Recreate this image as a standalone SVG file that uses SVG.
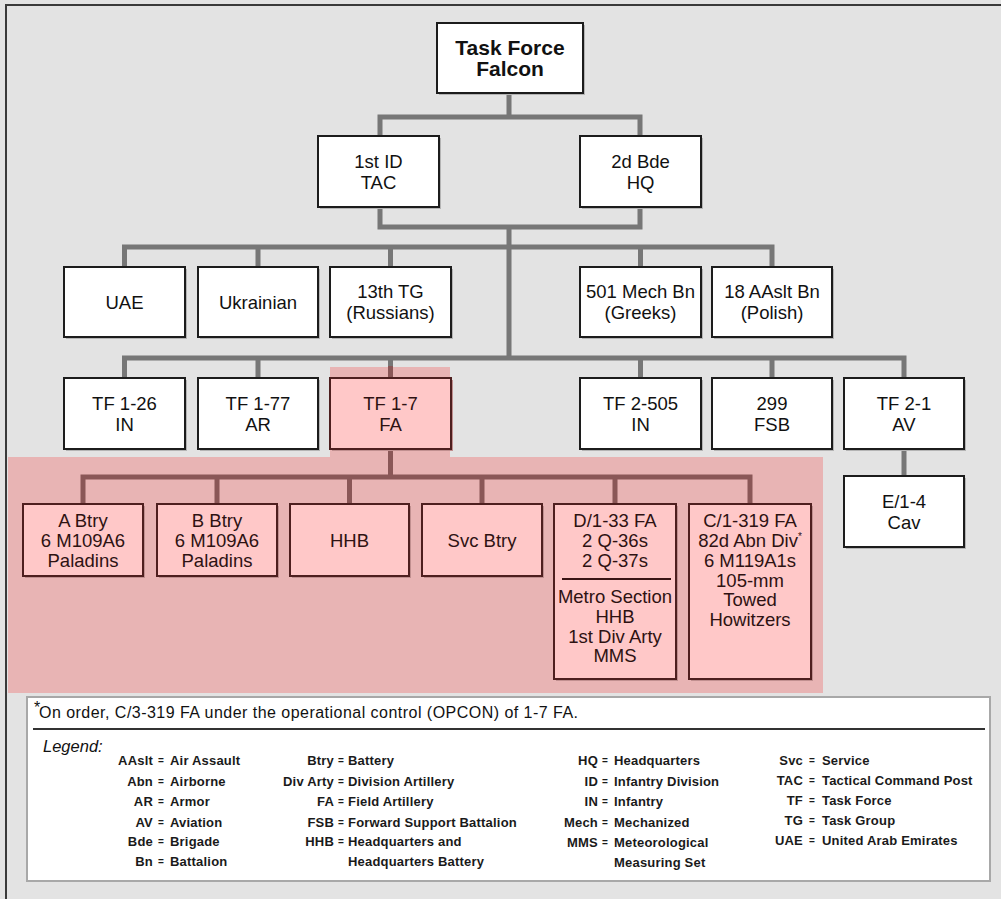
<svg xmlns="http://www.w3.org/2000/svg" width="1001" height="899" viewBox="0 0 1001 899">
<style>
text{font-family:"Liberation Sans",Arial,Helvetica,sans-serif}
.bg{fill:#e3e3e3}
.frame{fill:none;stroke:#3a3a3a;stroke-width:2}
.hl{fill:#e8b4b4}
.c{fill:none;stroke:#777;stroke-width:5;stroke-linejoin:miter;stroke-linecap:butt}
.cp{fill:none;stroke:#8a5757;stroke-width:5;stroke-linejoin:miter}
.n .s{fill:#b4b4b4}
.n .b{fill:#fff;stroke:#1c1c1c;stroke-width:2}
.p .s{fill:#c08f8f}
.p .b{fill:#ffc8c8;stroke:#4e1f1f;stroke-width:2}
.t{font-size:18.5px;fill:#111;text-anchor:middle}
.p .t{fill:#2e1212}
.title{font-size:21px;font-weight:bold;fill:#111;text-anchor:middle}
.div{stroke:#3a1515;stroke-width:2}
.lgbox{fill:#fff;stroke:#a8a8a8;stroke-width:2}
.fn{font-size:16px;fill:#111}
.lt{font-size:16.5px;font-style:italic;fill:#111}
.lg{font-size:13px;font-weight:bold;fill:#1a1a1a;letter-spacing:0.2px}
.eq{font-size:10px;font-weight:bold;fill:#1a1a1a}
.ab{text-anchor:end}
</style>
<rect class="bg" x="0" y="0" width="1001" height="899"/>
<rect class="frame" x="6" y="5" width="1010" height="910"/>
<polygon class="hl" points="330,367 450,367 450,457 823,457 823,693 8,693 8,457 330,457"/>

<g id="connectors">
  <path class="c" d="M509,93 V117 M380,136 V117 H640 V136"/>
  <path class="c" d="M380,207 V227 H640 V207 M509,227 V358"/>
  <path class="c" d="M124.5,267 V247 H772 V267 M258,247 V267 M390.5,247 V267 M640.5,247 V267"/>
  <path class="c" d="M124.5,378 V358 H904 V378 M258,358 V378 M390.5,358 V367 M640.5,358 V378 M772,358 V378"/>
  <path class="cp" d="M390.5,366 V378"/>
  <path class="c" d="M904,449 V476"/>
  <path class="cp" d="M390.5,449 V477 M83,504 V477 H750 V504 M217,477 V504 M349.5,477 V504 M482,477 V504 M615,477 V504"/>
</g>

<g id="falcon" class="n"><rect class="s" x="439" y="25" width="146" height="70"/><rect class="b" x="437" y="23" width="146" height="70"/>
  <text class="title" x="510" y="54.5">Task Force</text><text class="title" x="510" y="75.5">Falcon</text></g>
<g id="tac" class="n"><rect class="s" x="320" y="138" width="121" height="71"/><rect class="b" x="318" y="136" width="121" height="71"/>
  <text class="t" x="378.5" y="168">1st ID</text><text class="t" x="378.5" y="189">TAC</text></g>
<g id="bde" class="n"><rect class="s" x="582" y="138" width="121" height="71"/><rect class="b" x="580" y="136" width="121" height="71"/>
  <text class="t" x="640.5" y="168">2d Bde</text><text class="t" x="640.5" y="189">HQ</text></g>

<g id="uae" class="n"><rect class="s" x="66" y="269" width="121" height="70"/><rect class="b" x="64" y="267" width="121" height="70"/>
  <text class="t" x="124.5" y="308.5">UAE</text></g>
<g id="ukrainian" class="n"><rect class="s" x="200" y="269" width="120" height="70"/><rect class="b" x="198" y="267" width="120" height="70"/>
  <text class="t" x="258" y="308.5">Ukrainian</text></g>
<g id="tg13" class="n"><rect class="s" x="332" y="269" width="121" height="70"/><rect class="b" x="330" y="267" width="121" height="70"/>
  <text class="t" x="390.5" y="298">13th TG</text><text class="t" x="390.5" y="319">(Russians)</text></g>
<g id="mech501" class="n"><rect class="s" x="582" y="269" width="121" height="70"/><rect class="b" x="580" y="267" width="121" height="70"/>
  <text class="t" x="640.5" y="298">501 Mech Bn</text><text class="t" x="640.5" y="319">(Greeks)</text></g>
<g id="aaslt18" class="n"><rect class="s" x="714" y="269" width="120" height="70"/><rect class="b" x="712" y="267" width="120" height="70"/>
  <text class="t" x="772" y="298">18 AAslt Bn</text><text class="t" x="772" y="319">(Polish)</text></g>

<g id="tf126" class="n"><rect class="s" x="66" y="380" width="121" height="71"/><rect class="b" x="64" y="378" width="121" height="71"/>
  <text class="t" x="124.5" y="410">TF 1-26</text><text class="t" x="124.5" y="431">IN</text></g>
<g id="tf177" class="n"><rect class="s" x="200" y="380" width="120" height="71"/><rect class="b" x="198" y="378" width="120" height="71"/>
  <text class="t" x="258" y="410">TF 1-77</text><text class="t" x="258" y="431">AR</text></g>
<g id="tf17" class="p"><rect class="s" x="332" y="380" width="121" height="71"/><rect class="b" x="330" y="378" width="121" height="71"/>
  <text class="t" x="390.5" y="410">TF 1-7</text><text class="t" x="390.5" y="431">FA</text></g>
<g id="tf2505" class="n"><rect class="s" x="582" y="380" width="121" height="71"/><rect class="b" x="580" y="378" width="121" height="71"/>
  <text class="t" x="640.5" y="410">TF 2-505</text><text class="t" x="640.5" y="431">IN</text></g>
<g id="fsb299" class="n"><rect class="s" x="714" y="380" width="120" height="71"/><rect class="b" x="712" y="378" width="120" height="71"/>
  <text class="t" x="772" y="410">299</text><text class="t" x="772" y="431">FSB</text></g>
<g id="tf21" class="n"><rect class="s" x="846" y="380" width="120" height="71"/><rect class="b" x="844" y="378" width="120" height="71"/>
  <text class="t" x="904" y="410">TF 2-1</text><text class="t" x="904" y="431">AV</text></g>
<g id="e14" class="n"><rect class="s" x="846" y="478" width="120" height="71"/><rect class="b" x="844" y="476" width="120" height="71"/>
  <text class="t" x="904" y="508">E/1-4</text><text class="t" x="904" y="529">Cav</text></g>

<g id="abtry" class="p"><rect class="s" x="25" y="506" width="120" height="72"/><rect class="b" x="23" y="504" width="120" height="72"/>
  <text class="t" x="83" y="526.5">A Btry</text><text class="t" x="83" y="546.5">6 M109A6</text><text class="t" x="83" y="566.5">Paladins</text></g>
<g id="bbtry" class="p"><rect class="s" x="159" y="506" width="120" height="72"/><rect class="b" x="157" y="504" width="120" height="72"/>
  <text class="t" x="217" y="526.5">B Btry</text><text class="t" x="217" y="546.5">6 M109A6</text><text class="t" x="217" y="566.5">Paladins</text></g>
<g id="hhb" class="p"><rect class="s" x="292" y="506" width="119" height="72"/><rect class="b" x="290" y="504" width="119" height="72"/>
  <text class="t" x="349.5" y="546.5">HHB</text></g>
<g id="svc" class="p"><rect class="s" x="424" y="506" width="120" height="72"/><rect class="b" x="422" y="504" width="120" height="72"/>
  <text class="t" x="482" y="546.5">Svc Btry</text></g>
<g id="d133" class="p"><rect class="s" x="556" y="506" width="122" height="175"/><rect class="b" x="554" y="504" width="122" height="175"/>
  <text class="t" x="615" y="526.5">D/1-33 FA</text><text class="t" x="615" y="546.5">2 Q-36s</text><text class="t" x="615" y="566.5">2 Q-37s</text>
  <line class="div" x1="562" y1="579" x2="671" y2="579"/>
  <text class="t" x="615" y="602.5">Metro Section</text><text class="t" x="615" y="622.5">HHB</text><text class="t" x="615" y="642.5">1st Div Arty</text><text class="t" x="615" y="662">MMS</text></g>
<g id="c1319" class="p"><rect class="s" x="691" y="506" width="122" height="175"/><rect class="b" x="689" y="504" width="122" height="175"/>
  <text class="t" x="750" y="526.5">C/1-319 FA</text><text class="t" x="750" y="546.5">82d Abn Div<tspan font-size="10px" dy="-7">*</tspan></text><text class="t" x="750" y="566.5">6 M119A1s</text><text class="t" x="750" y="586.5">105-mm</text><text class="t" x="750" y="606">Towed</text><text class="t" x="750" y="626">Howitzers</text></g>

<g id="legend">
  <rect class="lgbox" x="27" y="697" width="963" height="184"/>
  <text class="fn" x="34" y="713" font-size="10px">*</text>
  <text class="fn" x="39" y="718" textLength="539" lengthAdjust="spacing">On order, C/3-319 FA under the operational control (OPCON) of 1-7 FA.</text>
  <line x1="33" y1="729" x2="985" y2="729" stroke="#333" stroke-width="2"/>
  <text class="lt" x="43" y="752">Legend:</text>

  <text class="lg ab" x="153" y="765">AAslt</text><text class="eq" x="158" y="764">=</text><text class="lg" x="170" y="765">Air Assault</text>
  <text class="lg ab" x="153" y="786">Abn</text><text class="eq" x="158" y="785">=</text><text class="lg" x="170" y="786">Airborne</text>
  <text class="lg ab" x="153" y="806">AR</text><text class="eq" x="158" y="805">=</text><text class="lg" x="170" y="806">Armor</text>
  <text class="lg ab" x="153" y="827">AV</text><text class="eq" x="158" y="826">=</text><text class="lg" x="170" y="827">Aviation</text>
  <text class="lg ab" x="153" y="846">Bde</text><text class="eq" x="158" y="845">=</text><text class="lg" x="170" y="846">Brigade</text>
  <text class="lg ab" x="153" y="866">Bn</text><text class="eq" x="158" y="865">=</text><text class="lg" x="170" y="866">Battalion</text>

  <text class="lg ab" x="334" y="765">Btry</text><text class="eq" x="338" y="764">=</text><text class="lg" x="348" y="765">Battery</text>
  <text class="lg ab" x="334" y="786">Div Arty</text><text class="eq" x="338" y="785">=</text><text class="lg" x="348" y="786">Division Artillery</text>
  <text class="lg ab" x="334" y="806">FA</text><text class="eq" x="338" y="805">=</text><text class="lg" x="348" y="806">Field Artillery</text>
  <text class="lg ab" x="334" y="827">FSB</text><text class="eq" x="338" y="826">=</text><text class="lg" x="348" y="827">Forward Support Battalion</text>
  <text class="lg ab" x="334" y="846">HHB</text><text class="eq" x="338" y="845">=</text><text class="lg" x="348" y="846">Headquarters and</text>
  <text class="lg" x="348" y="866">Headquarters Battery</text>

  <text class="lg ab" x="598" y="765">HQ</text><text class="eq" x="602" y="764">=</text><text class="lg" x="614" y="765">Headquarters</text>
  <text class="lg ab" x="598" y="786">ID</text><text class="eq" x="602" y="785">=</text><text class="lg" x="614" y="786">Infantry Division</text>
  <text class="lg ab" x="598" y="806">IN</text><text class="eq" x="602" y="805">=</text><text class="lg" x="614" y="806">Infantry</text>
  <text class="lg ab" x="598" y="827">Mech</text><text class="eq" x="602" y="826">=</text><text class="lg" x="614" y="827">Mechanized</text>
  <text class="lg ab" x="598" y="847">MMS</text><text class="eq" x="602" y="846">=</text><text class="lg" x="614" y="847">Meteorological</text>
  <text class="lg" x="614" y="867">Measuring Set</text>

  <text class="lg ab" x="803" y="765">Svc</text><text class="eq" x="809" y="764">=</text><text class="lg" x="822" y="765">Service</text>
  <text class="lg ab" x="803" y="785">TAC</text><text class="eq" x="809" y="784">=</text><text class="lg" x="822" y="785">Tactical Command Post</text>
  <text class="lg ab" x="803" y="805">TF</text><text class="eq" x="809" y="804">=</text><text class="lg" x="822" y="805">Task Force</text>
  <text class="lg ab" x="803" y="825">TG</text><text class="eq" x="809" y="824">=</text><text class="lg" x="822" y="825">Task Group</text>
  <text class="lg ab" x="803" y="845">UAE</text><text class="eq" x="809" y="844">=</text><text class="lg" x="822" y="845">United Arab Emirates</text>
</g>
</svg>
